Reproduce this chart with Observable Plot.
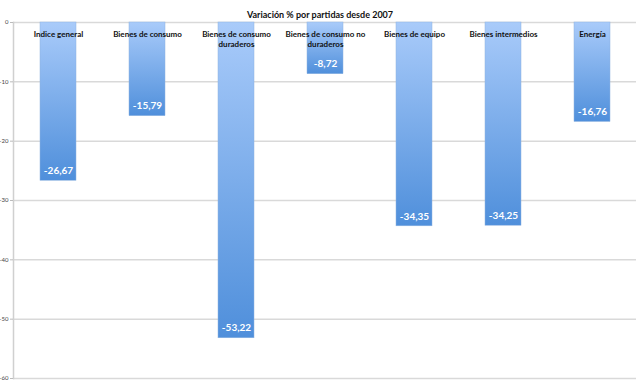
<!DOCTYPE html>
<html>
<head>
<meta charset="utf-8">
<script src="https://cdn.jsdelivr.net/npm/d3@7"></script>
<script src="https://cdn.jsdelivr.net/npm/@observablehq/plot@0.6"></script>
<style>
  html, body { margin: 0; padding: 0; background: #fff; }
</style>
</head>
<body>
<div id="chart"></div>
<script>
const title = "Variación % por partidas desde 2007";
const categories = ["Indice general", "Bienes de consumo", "Bienes de consumo duraderos", "Bienes de consumo no duraderos", "Bienes de equipo", "Bienes intermedios", "Energía"];
const categoryLabels = ["Indice general", "Bienes de consumo", "Bienes de consumo\nduraderos", "Bienes de consumo no\nduraderos", "Bienes de equipo", "Bienes intermedios", "Energía"];
const values = [-26.67, -15.79, -53.22, -8.72, -34.35, -34.25, -16.76];
const yTicks = [0, -10, -20, -30, -40, -50, -60];

const data = categories.map((c, i) => ({category: c, label: categoryLabels[i], value: values[i]}));
const fmt = v => v.toFixed(2).replace(".", ",");

const gradientDefs = () => {
  const defs = d3.create("svg:defs");
  const g = defs.append("linearGradient")
    .attr("id", "barGrad")
    .attr("x1", 0).attr("y1", 0).attr("x2", 0).attr("y2", 1);
  g.append("stop").attr("offset", "0%").attr("stop-color", "#a9cbfa");
  g.append("stop").attr("offset", "100%").attr("stop-color", "#4f8fdb");
  return defs.node();
};

const chart = Plot.plot({
  width: 640,
  height: 383,
  marginTop: 22,
  marginLeft: 13,
  marginRight: 4,
  marginBottom: 5,
  style: {fontFamily: "Lato, 'Open Sans', sans-serif", background: "#fff"},
  x: {domain: categories, paddingInner: 0.6, paddingOuter: 0.3, axis: null},
  y: {domain: [-60, 0], ticks: yTicks, tickFormat: d => d === 0 ? "0" : String(d), label: null},
  marks: [
    gradientDefs,
    Plot.gridY(yTicks, {stroke: "#d9d9d9", strokeOpacity: 1, strokeWidth: 1.5}),
    Plot.frame({anchor: "left", stroke: "#d0d0d0", strokeWidth: 1.5}),
    Plot.axisY(yTicks, {tickSize: 3, tickPadding: 2, fontSize: 6, stroke: "#bbb", fill: "#444", tickFormat: d => String(d)}),
    Plot.barY(data, {x: "category", y: "value", fill: "url(#barGrad)", stroke: "#8fb3e0", strokeWidth: 0.5}),
    Plot.text(data, {x: "category", y: "value", text: d => fmt(d.value), dy: -10, fill: "white", fontWeight: "bold", fontSize: 10}),
    Plot.text(data, {x: "category", y: () => 0, text: "label", dy: 7, lineAnchor: "top", lineHeight: 1.3, fontWeight: "bold", fontSize: 8, fill: "#111"}),
    Plot.text([title], {frameAnchor: "top", dy: -11, dx: -5, fontWeight: "bold", fontSize: 9, fill: "#111"})
  ]
});
document.getElementById("chart").appendChild(chart);
</script>
</body>
</html>
